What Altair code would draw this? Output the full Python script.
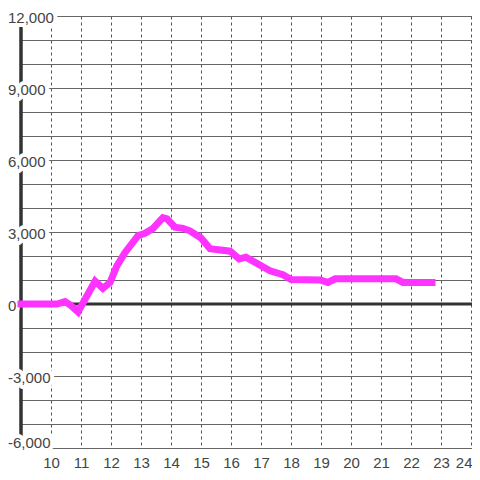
import altair as alt
import pandas as pd

# ---- data ----
line_x = [9.0, 10.2, 10.47, 10.63, 10.9, 11.47, 11.73, 11.97, 12.2, 12.47, 12.9,
          13.13, 13.4, 13.73, 13.87, 14.13, 14.4, 14.63, 15.0, 15.3, 15.97, 16.27,
          16.5, 17.3, 17.73, 18.0, 18.97, 19.23, 19.47, 21.5, 21.73, 22.7]
line_y = [0, 0, 100, -30, -330, 950, 650, 900, 1600, 2150, 2850,
          2950, 3150, 3600, 3550, 3200, 3150, 3050, 2750, 2300, 2200, 1880,
          1950, 1380, 1220, 1020, 1000, 900, 1050, 1050, 900, 900]

x_ticks = list(range(10, 25))
y_grid = list(range(-6000, 12001, 1000))
y_label_vals = [12000, 9000, 6000, 3000, 0, -3000, -6000]
y_label_text = ["12,000", "9,000", "6,000", "3,000", "0", "-3,000", "-6,000"]

X_DOMAIN = [9, 24.0333]
Y_DOMAIN = [-6000, 12000]
FONT = "Liberation Sans"

line_df = pd.DataFrame({"x": line_x, "y": line_y})
lab_df = pd.DataFrame({"v": y_label_vals, "t": y_label_text})

xs = alt.Scale(domain=X_DOMAIN, nice=False, zero=False)
ys = alt.Scale(domain=Y_DOMAIN, nice=False, zero=False)

x_axis = alt.Axis(
    values=x_ticks, grid=True, gridDash=[3, 3], gridColor="#555555",
    gridOpacity=1, ticks=False, domain=False, labelPadding=7,
    labelFontSize=15, labelColor="#444444", labelFont=FONT, title=None,
    labelFlush=False, labelOverlap=False, labelBound=False,
    labelAlign={"condition": {"test": "datum.value >= 24", "value": "right"},
                "value": "center"},
    labelOffset={"condition": {"test": "datum.value >= 24", "value": 1},
                 "value": 0},
)
y_axis = alt.Axis(
    values=y_grid, grid=True, gridColor="#666666", gridOpacity=1,
    labels=False, ticks=False, domain=False, title=None)

line = alt.Chart(line_df).mark_line(
    color="#ff33ff", strokeWidth=7, strokeCap="square", strokeJoin="miter"
).encode(
    x=alt.X("x:Q", scale=xs, axis=x_axis),
    y=alt.Y("y:Q", scale=ys, axis=y_axis),
)

zero_rule = alt.Chart(pd.DataFrame({"v": [0]})).mark_rule(
    color="#333333", strokeWidth=3
).encode(y=alt.Y("v:Q", scale=ys, axis=y_axis))

left_rule = alt.Chart(pd.DataFrame({"v": [X_DOMAIN[0]]})).mark_rule(
    color="#333333", strokeWidth=3.5
).encode(x=alt.X("v:Q", scale=xs, axis=x_axis))


def label_layer(flt, dy, halo):
    style = dict(align="left", baseline="middle", dy=dy, fontSize=15, font=FONT)
    if halo:
        style.update(stroke="white", strokeWidth=8, fill="white", strokeJoin="round")
    else:
        style.update(color="#444444")
    return alt.Chart(lab_df).transform_filter(flt).mark_text(**style).encode(
        y=alt.Y("v:Q", scale=ys, axis=y_axis),
        x=alt.value(-13),
        text="t:N",
    )


layers = [zero_rule, left_rule]
for halo in (True, False):
    layers.append(label_layer("datum.v > -6000", 2, halo))
    layers.append(label_layer("datum.v <= -6000", -5, halo))
layers.append(line)

chart = alt.layer(*layers).properties(
    width=451, height=432,
    autosize=alt.AutoSizeParams(type="none"),
    padding={"left": 13, "top": 8, "right": 0, "bottom": 22},
).configure_view(stroke=None).configure(background="white")

chart.save("out.html", embed_options={"renderer": "svg", "actions": False})
